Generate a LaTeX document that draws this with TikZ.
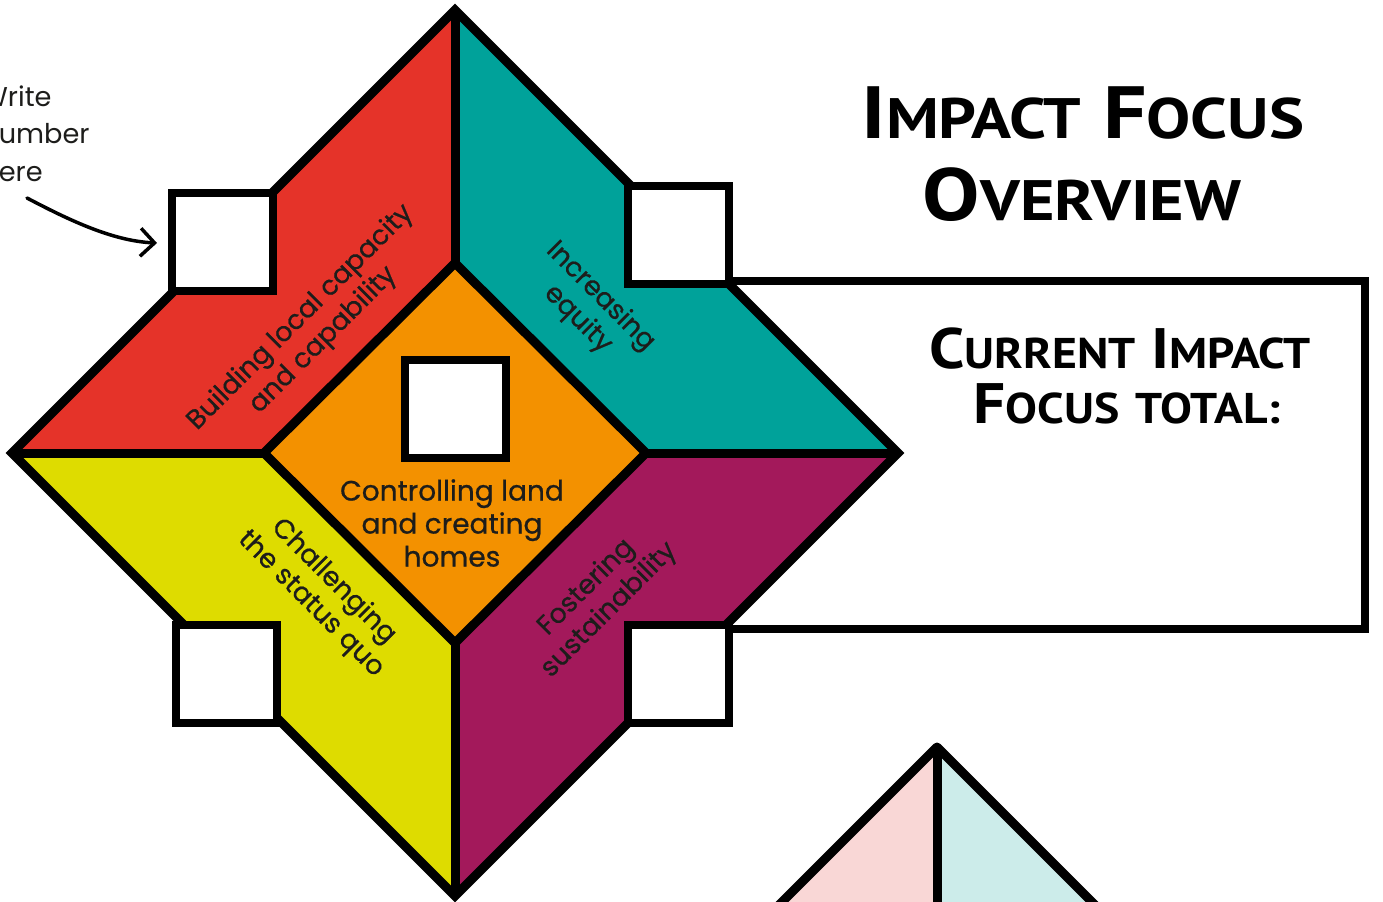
\documentclass[tikz,border=0pt]{standalone}
\usepackage{fontspec}
\setmainfont{Poppins}
\newfontfamily\lblfont{Poppins}[FakeBold=0.7]
\newfontfamily\titlefont{PT Sans}
\usetikzlibrary{arrows.meta}
\definecolor{cred}{HTML}{E53329}
\definecolor{cteal}{HTML}{00A29A}
\definecolor{cyellow}{HTML}{DEDC00}
\definecolor{cpurple}{HTML}{A3195B}
\definecolor{corange}{HTML}{F39100}
\definecolor{cpink}{HTML}{F9D7D6}
\definecolor{clteal}{HTML}{CCECEA}
\definecolor{ink}{HTML}{1D1D1B}
\newcommand{\scA}[2]{{\fontsize{37pt}{40pt}\selectfont #1}{\fontsize{28.5pt}{30pt}\selectfont #2}}
\newcommand{\scB}[2]{{\fontsize{28.5pt}{30pt}\selectfont #1}{\fontsize{21.5pt}{23pt}\selectfont #2}}
\begin{document}
\begin{tikzpicture}[x=0.5pt,y=-0.5pt,
  numbox/.style={draw=black, fill=white, line width=4pt, minimum width=50.5pt, minimum height=49pt, inner sep=0pt},
  edgeline/.style={draw=black, line width=4.5pt, line join=miter},
  lbl/.style={text=ink, font=\lblfont\fontsize{13.5pt}{16pt}\selectfont, align=center, inner sep=0pt},
  titletext/.style={text=black, font=\titlefont\bfseries\fontsize{37pt}{40pt}\selectfont, inner sep=0pt},
  subtitletext/.style={text=black, font=\titlefont\bfseries\fontsize{28.5pt}{30pt}\selectfont, inner sep=0pt},
  notetext/.style={text=ink, font=\fontsize{13.6pt}{18.75pt}\selectfont, align=left, inner sep=0pt},
  pointer/.style={draw=black, line width=1.75pt, line cap=round, -{Straight Barb[length=7pt,width=14pt]}}
]
\useasboundingbox (0,0) rectangle (1383,901);
\begin{scope}
\clip (0,0) rectangle (1383,901);
% outer and inner diamond vertices
\coordinate (T) at (455,10);
\coordinate (R) at (898,453);
\coordinate (B) at (455,896);
\coordinate (L) at (12,453);
\coordinate (IT) at (455,263);
\coordinate (IR) at (646,453);
\coordinate (IB) at (455,643);
\coordinate (IL) at (264,453);
% quadrants
\fill[cred] (L) -- (T) -- (IT) -- (IL) -- cycle;
\fill[cteal] (T) -- (R) -- (IR) -- (IT) -- cycle;
\fill[cpurple] (R) -- (B) -- (IB) -- (IR) -- cycle;
\fill[cyellow] (B) -- (L) -- (IL) -- (IB) -- cycle;
\fill[corange] (IT) -- (IR) -- (IB) -- (IL) -- cycle;
% outlines
\draw[edgeline] (T) -- (R) -- (B) -- (L) -- cycle;
\draw[edgeline] (IT) -- (IR) -- (IB) -- (IL) -- cycle;
\draw[edgeline] (T) -- (IT);
\draw[edgeline] (IB) -- (B);
\draw[edgeline] (L) -- (IL);
\draw[edgeline] (IR) -- (R);
% total box
\coordinate (rtA) at (729,281);
\coordinate (rtB) at (1365,281);
\coordinate (rtC) at (1365,629);
\coordinate (rtD) at (729,629);
\draw[line width=4pt, line join=miter] (rtA) -- (rtB) -- (rtC) -- (rtD);
% number boxes
\node[numbox] (sqTL) at (222.5,242) {};
\node[numbox] (sqTR) at (678.5,234.5) {};
\node[numbox] (sqBL) at (226.5,674) {};
\node[numbox] (sqBR) at (678.5,674) {};
\node[numbox] (sqC) at (455,409) {};
% labels
\node[lbl, rotate=45] (lRed) at (312,329) {Building local capacity\\and capability};
\node[lbl, rotate=-45] (lTeal) at (589,308) {Increasing\\equity};
\node[lbl, rotate=-45] (lYellow) at (322,593) {Challenging\\the status quo};
\node[lbl, rotate=45] (lPurple) at (598,599) {Fostering\\sustainability};
\node[lbl, font=\lblfont\fontsize{14pt}{16.5pt}\selectfont] (lCenter) at (452,523) {Controlling land\\and creating\\homes};
% note and pointer
\node[notetext, anchor=north west] (note) at (-19,85) {Write\\number\\here};
\coordinate (arrS) at (27,198);
\coordinate (arrE) at (157,243);
\draw[pointer] (arrS) .. controls (67,219) and (112,241) .. (arrE);
% titles
\node[titletext, anchor=base] (title1) at (1083,138) {\scalebox{1.16}[1]{\scA{I}{MPACT} \scA{F}{OCUS}}};
\node[titletext, anchor=base] (title2) at (1082,220) {\scalebox{1.16}[1]{\scA{O}{VERVIEW}}};
\node[subtitletext, anchor=base] (sub1) at (1120,368) {\scalebox{1.11}[1]{\scB{C}{URRENT} \scB{I}{MPACT}}};
\node[subtitletext, anchor=base] (sub2) at (1127,423) {\scalebox{1.11}[1]{\scB{F}{OCUS} \scB{}{TOTAL:}}};
% second diamond (top part)
\coordinate (T2) at (937,747);
\coordinate (L2) at (777,907);
\coordinate (R2) at (1097,907);
\coordinate (M2) at (937,907);
\fill[cpink] (T2) -- (L2) -- (M2) -- cycle;
\fill[clteal] (T2) -- (R2) -- (M2) -- cycle;
\draw[edgeline, line join=round] (L2) -- (T2) -- (R2);
\draw[edgeline] (T2) -- (M2);
\end{scope}
\end{tikzpicture}
\end{document}
